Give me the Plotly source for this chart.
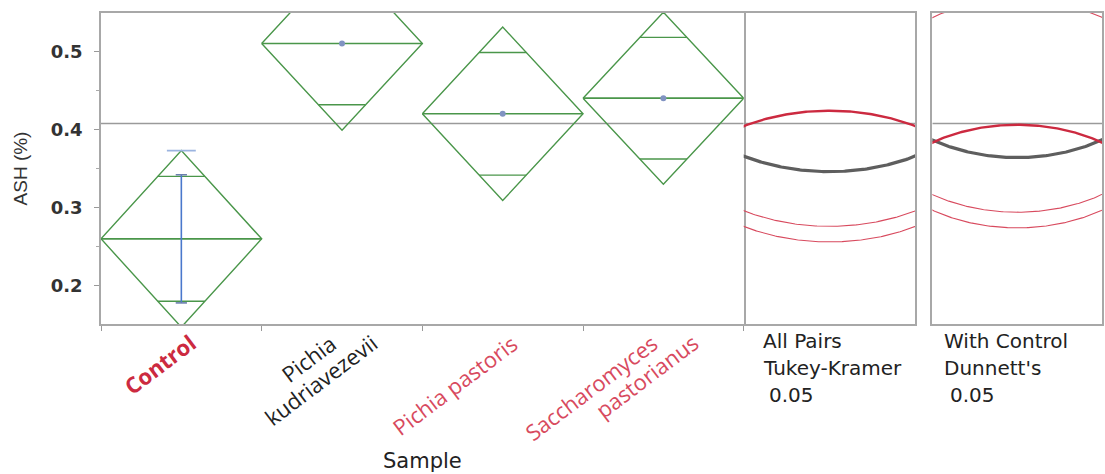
import numpy as np
import plotly.graph_objects as go

# ---- data ----
groups = ["Control", "Pichia<br>kudriavezevii", "Pichia pastoris", "Saccharomyces<br>pastorianus"]
group_means = [0.26, 0.51, 0.42, 0.44]
ci_half = [0.113, 0.111, 0.111, 0.110]          # 95% CI half-width of each mean
group_n = [3, 3, 3, 3]
diff_from_control = [False, True, False, False]  # Dunnett's result vs Control

control_bar_lo = 0.178
control_bar_hi = 0.342
control_cap_top = 0.373

tukey_radius = 0.164     # comparison circle radius, all pairs Tukey-Kramer 0.05
dunnett_radius = 0.146   # comparison circle radius, with control Dunnett's 0.05

y_ticks = [0.2, 0.3, 0.4, 0.5]
y_range = [0.151, 0.549]

panel1_text = ["All Pairs", "Tukey-Kramer", "0.05"]
panel2_text = ["With Control", "Dunnett's", "0.05"]

# ---- styles ----
GREEN = "#4a964a"
BLUE = "#4a78cc"
RED_BOLD = "#cc2a40"
RED = "#d84a5e"
GRAY_CIRCLE = "#5e5e5e"
FRAME = "#a8a8a8"
GRAND = "#9a9a9a"

grand_mean = float(np.mean(group_means))
panel_half = 0.078

fig = go.Figure()

def seg(x, y, color, width, xa="x", ya="y"):
    fig.add_trace(go.Scatter(x=x, y=y, mode="lines", xaxis=xa, yaxis=ya,
                             line=dict(color=color, width=width),
                             hoverinfo="skip", showlegend=False))

# grand mean reference line
seg([0, len(groups)], [grand_mean, grand_mean], GRAND, 1.5)

# means diamonds
nmax = max(group_n)
for i, (m, h, n) in enumerate(zip(group_means, ci_half, group_n)):
    c = i + 0.5
    hw = 0.5 * n / nmax
    seg([c - hw, c, c + hw, c, c - hw], [m, m + h, m, m - h, m], GREEN, 1.4)
    seg([c - hw, c + hw], [m, m], GREEN, 1.6)
    k = 1 - 1 / np.sqrt(2)
    for s in (1, -1):
        yo = m + s * h / np.sqrt(2)
        seg([c - hw * k, c + hw * k], [yo, yo], GREEN, 1.4)

# control error bar
cx = 0.5
seg([cx, cx], [control_bar_lo, control_bar_hi], BLUE, 1.6)
for yv in (control_bar_lo, control_bar_hi):
    seg([cx - 0.035, cx + 0.035], [yv, yv], "#6a7fae", 1.6)
seg([cx - 0.09, cx + 0.09], [control_cap_top, control_cap_top], "#9bb4e0", 1.8)

# mean markers for the groups without an error bar
fig.add_trace(go.Scatter(x=[i + 0.5 for i in range(1, len(groups))], y=group_means[1:],
                         mode="markers", marker=dict(size=6, color="#8193c2"),
                         hoverinfo="skip", showlegend=False))

# comparison circles
theta = np.linspace(0, 2 * np.pi, 721)
for xa, ya, r in (("x2", "y2", tukey_radius), ("x3", "y3", dunnett_radius)):
    seg([-panel_half, panel_half], [grand_mean, grand_mean], GRAND, 1.5, xa, ya)
    order = [j for j in range(1, len(groups)) if not diff_from_control[j]] + \
            [j for j in range(1, len(groups)) if diff_from_control[j]] + [0]
    for j in order:
        if j == 0:
            col, w = RED_BOLD, 2.4
        elif diff_from_control[j]:
            col, w = GRAY_CIRCLE, 3.2
        else:
            col, w = RED, 1.1
        seg(r * np.cos(theta), group_means[j] + r * np.sin(theta), col, w, xa, ya)

# ---- axes ----
main_right = (745 - 101) / 1003
p1_right = (917 - 101) / 1003
p2_left = (934 - 101) / 1003

noaxis = dict(showticklabels=False, ticks="", showgrid=False, zeroline=False)

fig.update_layout(
    width=1105, height=474,
    margin=dict(l=101, r=1, t=13, b=150),
    plot_bgcolor="white", paper_bgcolor="white",
    showlegend=False,
    font=dict(family="DejaVu Sans", size=19, color="#222"),
    xaxis=dict(domain=[0, main_right], range=[0, len(groups)], anchor="y",
               showline=True, mirror=True, linecolor=FRAME, linewidth=1.6,
               tickvals=list(range(len(groups) + 1)), ticktext=[""] * (len(groups) + 1),
               ticks="outside", ticklen=5, tickcolor="#999", showgrid=False, zeroline=False),
    yaxis=dict(range=y_range, anchor="x", tickvals=y_ticks,
               ticktext=[f"{v:.1f}" for v in y_ticks],
               ticks="outside", ticklen=5, tickcolor="#999", ticklabelstandoff=8,
               minor=dict(dtick=0.05, tick0=0.0, ticks="outside", ticklen=3, tickcolor="#aaa"),
               showline=True, mirror=True, linecolor=FRAME, linewidth=1.6,
               showgrid=False, zeroline=False,
               tickfont=dict(family="DejaVu Sans", size=18, color="#333", weight="bold"),
               title=dict(text="ASH (%)", standoff=18,
                          font=dict(family="Liberation Sans", size=19, color="#333"))),
    xaxis2=dict(domain=[main_right, p1_right], range=[-panel_half, panel_half], anchor="y2",
                showline=True, mirror=True, linecolor=FRAME, linewidth=1.6, **noaxis),
    yaxis2=dict(matches="y", anchor="x2", side="right", range=y_range, showline=True,
                linecolor=FRAME, linewidth=1.6, **noaxis),
    xaxis3=dict(domain=[p2_left, 1], range=[-panel_half, panel_half], anchor="y3",
                showline=True, mirror=True, linecolor=FRAME, linewidth=1.6, **noaxis),
    yaxis3=dict(matches="y", anchor="x3", range=y_range, showline=True, mirror=True,
                linecolor=FRAME, linewidth=1.6, **noaxis),
)

# rotated category labels, one annotation per text line so the line ends step along the axis
label_col = [RED_BOLD if i == 0 else ("#222" if diff_from_control[i] else RED)
             for i in range(len(groups))]
for i, (name, col) in enumerate(zip(groups, label_col)):
    lines = name.split("<br>")
    n = len(lines)
    for k, line in enumerate(lines):
        txt = f"<b>{line}</b>" if i == 0 else line
        fig.add_annotation(x=i + 0.5, y=0, xref="x", yref="paper", text=txt,
                           textangle=-37, xanchor="right", yanchor="top",
                           xshift=23 + 40 * (k - (n - 1) / 2), yshift=-1,
                           showarrow=False,
                           font=dict(family="Open Sans", size=22, color=col))

fig.add_annotation(x=0.5, y=(324 - 461) / 311, xref="x domain", yref="paper",
                   text="Sample", showarrow=False, xanchor="center", yanchor="middle",
                   font=dict(family="DejaVu Sans", size=21, color="#222"))

# panel captions
rows_py = [341, 368, 395]
for texts, px0 in ((panel1_text, 762), (panel2_text, 944)):
    for k, (t, py) in enumerate(zip(texts, rows_py)):
        px = px0 + (6 if k == 2 else 0)
        fig.add_annotation(x=(px - 101) / 1003, y=(324 - py) / 311, xref="paper", yref="paper",
                           text=t, showarrow=False, xanchor="left", yanchor="middle",
                           font=dict(family="DejaVu Sans", size=20, color="#222"))

fig.write_html("out.html")
